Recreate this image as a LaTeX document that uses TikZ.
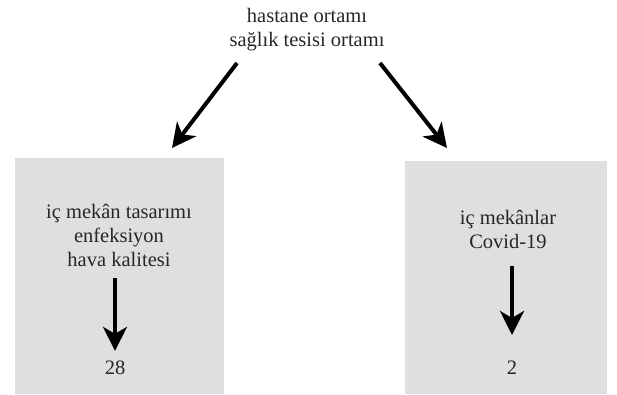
\documentclass[tikz,border=0pt]{standalone}
\usepackage{fontspec}
\setmainfont{Liberation Serif}
\usetikzlibrary{arrows.meta}
\tikzset{
  panel/.style={fill=gray!25, draw=none},
  txt/.style={align=center, font=\fontsize{20.5}{24}\selectfont, text=black!85, inner sep=0pt},
  bigarrow/.style={line width=4pt, -{Stealth[length=24pt,width=24pt,inset=7pt]}},
}
\begin{document}
\begin{tikzpicture}[x=1pt,y=1pt]
\useasboundingbox (0,0) rectangle (617,394);
% boxes
\fill[panel] (15,0) rectangle (224,236);
\fill[panel] (405,0) rectangle (607,233);
% texts
\node[txt] (top) at (307,364) {hastane ortamı\\sağlık tesisi ortamı};
\node[txt] (lt) at (119,159) {iç mekân tasarımı\\enfeksiyon\\hava kalitesi};
\node[txt] (rt) at (508,165) {iç mekânlar\\Covid-19};
\node[txt] (ln) at (115,26) {28};
\node[txt] (rn) at (512,26) {2};
% arrow ends
\coordinate (a1) at (237,331);
\coordinate (b1) at (172,246);
\coordinate (a2) at (380,331);
\coordinate (b2) at (447,246);
\draw[bigarrow] (a1) -- (b1);
\draw[bigarrow] (a2) -- (b2);
\draw[bigarrow] ([yshift=-12pt]lt.south -| ln) -- ([yshift=10pt]ln.north);
\draw[bigarrow] ([yshift=-18pt]rt.south -| rn) -- ([yshift=26pt]rn.north);
\end{tikzpicture}
\end{document}
